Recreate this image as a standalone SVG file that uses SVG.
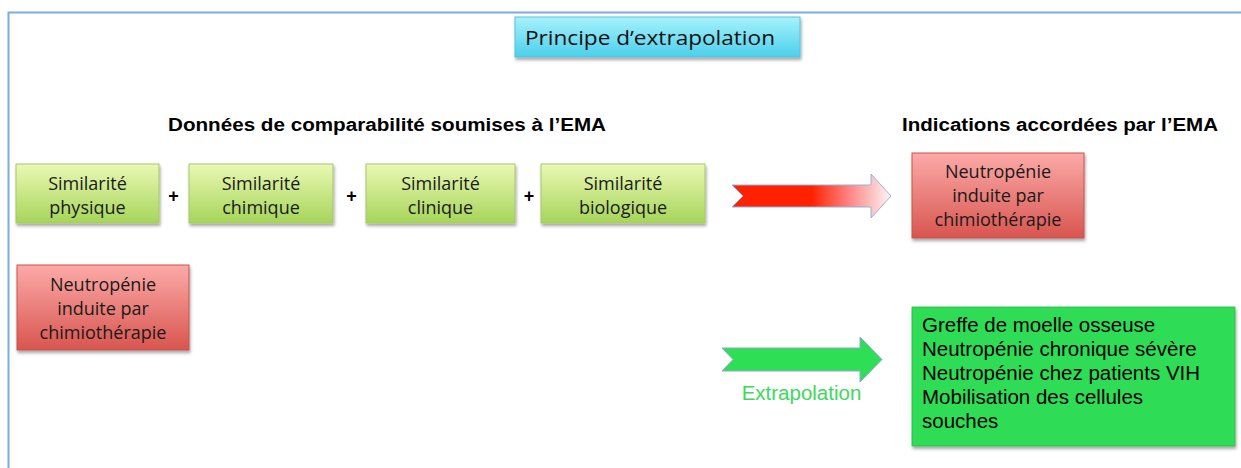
<svg xmlns="http://www.w3.org/2000/svg" width="1241" height="468" viewBox="0 0 1241 468">
<defs>
<linearGradient id="gCyan" x1="0" y1="0" x2="0" y2="1"><stop offset="0" stop-color="#a6f2fc"/><stop offset="1" stop-color="#4ccfec"/></linearGradient>
<linearGradient id="gLime" x1="0" y1="0" x2="0" y2="1"><stop offset="0" stop-color="#eaf8b4"/><stop offset="1" stop-color="#a6d55a"/></linearGradient>
<linearGradient id="gRose" x1="0" y1="0" x2="0" y2="1"><stop offset="0" stop-color="#fcaaa8"/><stop offset="1" stop-color="#d8554f"/></linearGradient>
<linearGradient id="gRedArrow" x1="0" y1="0" x2="1" y2="0"><stop offset="0" stop-color="#ff2200"/><stop offset="0.5" stop-color="#ff2200"/><stop offset="0.75" stop-color="#ff8a8a"/><stop offset="1" stop-color="#fff4f4"/></linearGradient>
<filter id="sh" x="-10%" y="-10%" width="130%" height="140%"><feDropShadow dx="1" dy="2.5" stdDeviation="1.5" flood-color="#000" flood-opacity="0.35"/></filter>
<style>
.lime{fill:url(#gLime);stroke:#a9c66a;stroke-width:1;filter:url(#sh)}
.rose{fill:url(#gRose);stroke:#c9524e;stroke-width:1;filter:url(#sh)}
.t{font-family:"Open Sans","Liberation Sans",sans-serif;font-size:18px;fill:#1a1a1a;text-anchor:middle}
.h{font-family:"Liberation Sans",Arial,sans-serif;font-size:17.5px;font-weight:bold;fill:#000}
.plus{font-family:"Liberation Sans",Arial,sans-serif;font-size:18px;font-weight:bold;fill:#000;text-anchor:middle}
.a{font-family:"Liberation Sans",Arial,sans-serif;font-size:20.5px;fill:#000}
</style>
</defs>
<rect width="1241" height="468" fill="#fff"/>
<g id="frame"><path d="M1241 12.5 H8.5 V468" fill="none" stroke="#7aaedf" stroke-width="2"/></g>
<g id="title">
<rect x="515" y="17" width="285" height="40" fill="url(#gCyan)" stroke="#5bbfd8" stroke-width="1" filter="url(#sh)"/>
<text x="650" y="45" font-family="'Open Sans','Liberation Sans',sans-serif" font-size="20px" fill="#111" text-anchor="middle" textLength="250" lengthAdjust="spacingAndGlyphs">Principe d’extrapolation</text>
</g>
<g id="headings">
<text class="h" x="168" y="131" textLength="438" lengthAdjust="spacingAndGlyphs">Données de comparabilité soumises à l’EMA</text>
<text class="h" x="902" y="131" textLength="316" lengthAdjust="spacingAndGlyphs">Indications accordées par l’EMA</text>
</g>
<g id="sim-physique"><rect class="lime" x="16" y="164" width="143" height="59"/><text class="t" x="87.5" y="190">Similarité</text><text class="t" x="87.5" y="214">physique</text></g>
<g id="sim-chimique"><rect class="lime" x="189" y="164" width="144" height="59"/><text class="t" x="261" y="190">Similarité</text><text class="t" x="261" y="214">chimique</text></g>
<g id="sim-clinique"><rect class="lime" x="366" y="164" width="149" height="59"/><text class="t" x="440.5" y="190">Similarité</text><text class="t" x="440.5" y="214">clinique</text></g>
<g id="sim-biologique"><rect class="lime" x="541" y="164" width="164" height="59"/><text class="t" x="623" y="190">Similarité</text><text class="t" x="623" y="214">biologique</text></g>
<g id="plus"><text class="plus" x="173.5" y="202">+</text><text class="plus" x="351.5" y="202">+</text><text class="plus" x="529" y="202">+</text></g>
<g id="neutro-right"><rect class="rose" x="912" y="153" width="172" height="85"/><text class="t" x="998" y="178">Neutropénie</text><text class="t" x="998" y="202">induite par</text><text class="t" x="998" y="226">chimiothérapie</text></g>
<g id="neutro-left"><rect class="rose" x="17" y="265" width="172" height="85"/><text class="t" x="103" y="291">Neutropénie</text><text class="t" x="103" y="315">induite par</text><text class="t" x="103" y="339">chimiothérapie</text></g>
<g id="indications"><rect x="912" y="307" width="323" height="139" fill="#2edd55" stroke="#28b848" stroke-width="0.8" filter="url(#sh)"/>
<text class="a" x="922" y="332">Greffe de moelle osseuse</text>
<text class="a" x="922" y="356">Neutropénie chronique sévère</text>
<text class="a" x="922" y="380">Neutropénie chez patients VIH</text>
<text class="a" x="922" y="404">Mobilisation des cellules</text>
<text class="a" x="922" y="428">souches</text></g>
<g id="connectors">
<path d="M732 185 H871 V174 L891 196 L871 218 V207 H732 L743 196 Z" fill="url(#gRedArrow)" stroke="#93b3d9" stroke-width="1"/>
<path d="M722 348 H860 V337 L882 359.5 L860 382 V371 H722 L733 359.5 Z" fill="#2ede55" stroke="#8fa8cf" stroke-width="1"/>
<text x="801.5" y="400" font-family="'Liberation Sans',Arial,sans-serif" font-size="20.5px" fill="#3cd95c" text-anchor="middle">Extrapolation</text>
</g>
</svg>
